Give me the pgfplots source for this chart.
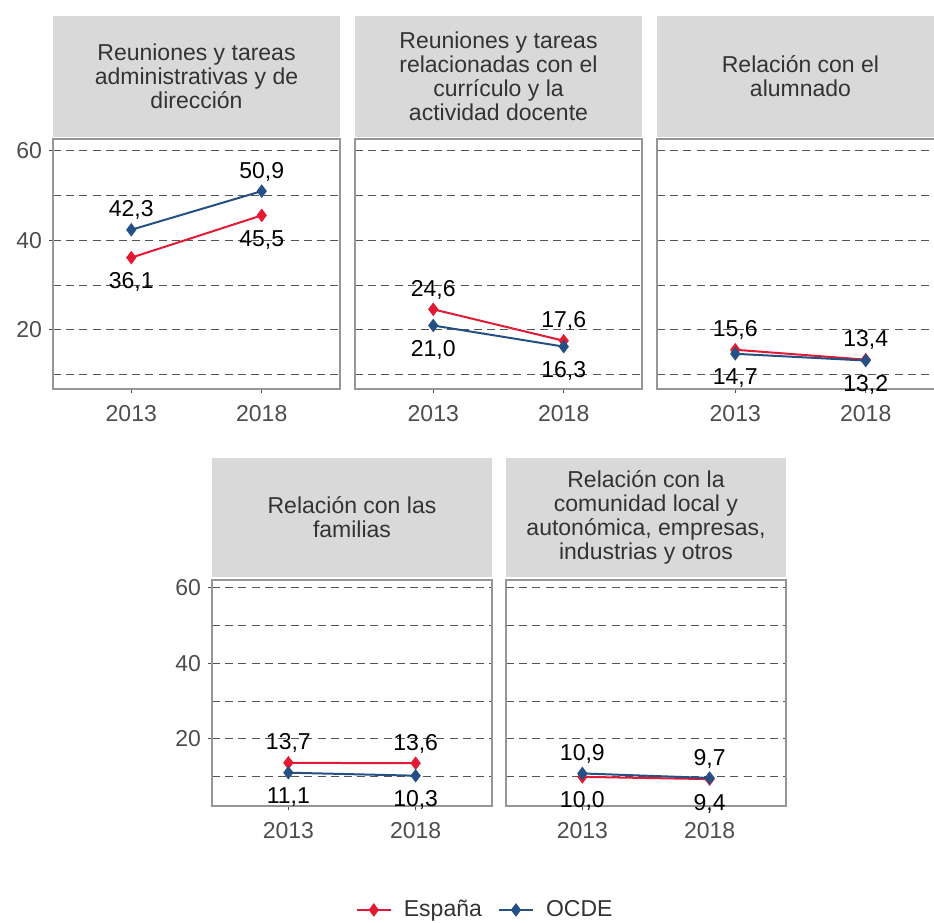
\documentclass[border=0pt]{standalone}
\usepackage{fontspec}
\setmainfont{Liberation Sans}
\usepackage{pgfplots}
\pgfplotsset{compat=1.18}

\definecolor{espana}{RGB}{226,26,52}
\definecolor{ocde}{RGB}{36,80,132}
\definecolor{stripc}{RGB}{217,217,217}
\definecolor{framec}{RGB}{150,150,150}
\definecolor{gridc}{RGB}{85,85,85}
\definecolor{tickc}{RGB}{77,77,77}
\newcommand{\fs}{\fontsize{11.5}{12}\selectfont}

\pgfplotsset{
  facet/.style={
    scale only axis, width=143.5pt, height=125pt,
    xmin=0.4, xmax=2.6, xtick={1,2}, xticklabels={2013,2018},
    ymin=6.87, ymax=62.5,
    ytick={20,40,60}, minor ytick={10,30,50},
    ymajorgrids, yminorgrids,
    major grid style={gridc, dash pattern=on 4pt off 2.6pt, line width=0.5pt},
    minor grid style={gridc, dash pattern=on 4pt off 2.6pt, line width=0.5pt},
    axis line style={framec, line width=0.6pt},
    tick align=outside, tick pos=left,
    major tick length=2pt, minor tick length=0pt,
    tick style={tickc, line width=0.5pt},
    ticklabel style={font=\fs, text=tickc},
    xticklabel style={yshift=-2.5pt},
    /pgf/number format/assume math mode=true,
    clip=false,
  },
  noy/.style={yticklabels={}, ytick style={draw=none}},
  bottomrow/.style={width=140pt, height=113pt, ymin=2.3, ymax=62.0},
  esp/.style={espana, line width=1pt, mark=diamond*, mark size=2.6pt},
  oc/.style={ocde, line width=1pt, mark=diamond*, mark size=2.6pt},
  lab/.style={nodes near coords={\pgfmathprintnumber[fixed,fixed zerofill,precision=1,use comma,assume math mode=true]{\pgfplotspointmeta}},
    every node near coord/.append style={font=\fs, text=black, inner sep=0pt}},
  up/.style={lab, every node near coord/.append style={anchor=south, yshift=4.5pt}},
  down/.style={lab, every node near coord/.append style={anchor=north, yshift=-7pt}},
}

\begin{document}
\begin{tikzpicture}
\useasboundingbox (0,0) rectangle (467pt,461.5pt);

% strips, top row
\fill[stripc] (26.5pt,393pt) rectangle (170pt,453.5pt);
\fill[stripc] (177.5pt,393pt) rectangle (321pt,453.5pt);
\fill[stripc] (328.5pt,393pt) rectangle (472pt,453.5pt);
\node[align=center, font=\fs, text=black!80] at (98.25pt,423.25pt) {Reuniones y tareas\\administrativas y de\\dirección};
\node[align=center, font=\fs, text=black!80] at (249.25pt,423.25pt) {Reuniones y tareas\\relacionadas con el\\currículo y la\\actividad docente};
\node[align=center, font=\fs, text=black!80] at (400.25pt,423.25pt) {Relación con el\\alumnado};

% strips, bottom row
\fill[stripc] (106pt,173pt) rectangle (246pt,232.5pt);
\fill[stripc] (253pt,173pt) rectangle (393pt,232.5pt);
\node[align=center, font=\fs, text=black!80] at (176pt,202.75pt) {Relación con las\\familias};
\node[align=center, font=\fs, text=black!80] at (323pt,202.75pt) {Relación con la\\comunidad local y\\autonómica, empresas,\\industrias y otros};

% panel 1
\begin{axis}[facet, at={(26.5pt,267pt)}, anchor=south west]
\addplot[esp, down] coordinates {(1,36.1) (2,45.5)};
\addplot[oc, up] coordinates {(1,42.3) (2,50.9)};
\end{axis}

% panel 2
\begin{axis}[facet, noy, at={(177.5pt,267pt)}, anchor=south west]
\addplot[esp, up] coordinates {(1,24.6) (2,17.6)};
\addplot[oc, down] coordinates {(1,21.0) (2,16.3)};
\end{axis}

% panel 3
\begin{axis}[facet, noy, at={(328.5pt,267pt)}, anchor=south west]
\addplot[esp, up] coordinates {(1,15.6) (2,13.4)};
\addplot[oc, down] coordinates {(1,14.7) (2,13.2)};
\end{axis}

% panel 4
\begin{axis}[facet, bottomrow, at={(106pt,58.5pt)}, anchor=south west]
\addplot[esp, up] coordinates {(1,13.7) (2,13.6)};
\addplot[oc, down] coordinates {(1,11.1) (2,10.3)};
\end{axis}

% panel 5 + legend
\begin{axis}[facet, bottomrow, noy, at={(253pt,58.5pt)}, anchor=south west,
  legend columns=2,
  legend style={at={(axis description cs:-0.071,-0.46)}, anchor=center,
    draw=none, fill=none, font=\fs, text=black!80,
    /tikz/every odd column/.append style={column sep=4pt},
    /tikz/every even column/.append style={column sep=6pt}}]
\addplot[esp, down] coordinates {(1,10.0) (2,9.4)};
\addlegendentry{España}
\addplot[oc, up] coordinates {(1,10.9) (2,9.7)};
\addlegendentry{OCDE}
\end{axis}
\end{tikzpicture}
\end{document}
